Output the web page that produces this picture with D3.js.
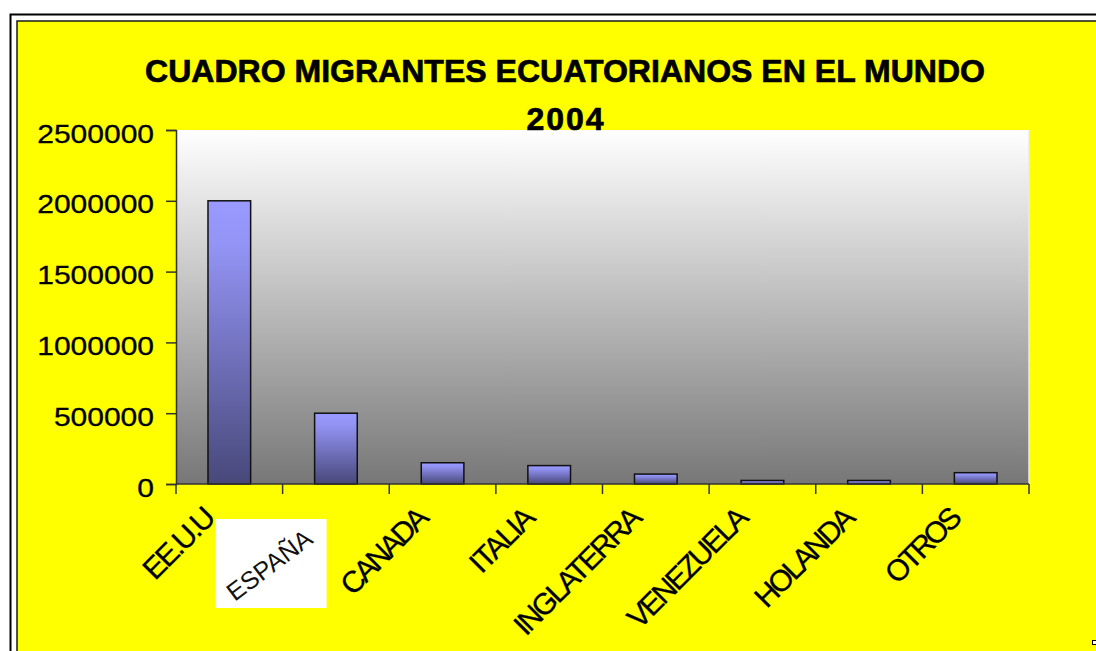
<!DOCTYPE html>
<html>
<head>
<meta charset="utf-8">
<script src="https://cdn.jsdelivr.net/npm/d3@7"></script>
<style>
  body { margin: 0; background: #fff; }
  svg { display: block; font-family: "Liberation Sans", Arial, sans-serif; }
</style>
</head>
<body>
<svg id="chart" width="1096" height="651"></svg>
<script>
// chart data
const categories = ["EE.U.U", "ESPAÑA", "CANADA", "ITALIA", "INGLATERRA", "VENEZUELA", "HOLANDA", "OTROS"];
const migrants = [2000000, 500000, 150000, 130000, 70000, 25000, 25000, 80000];
const yTicks = [0, 500000, 1000000, 1500000, 2000000, 2500000];
const titleLines = ["CUADRO MIGRANTES ECUATORIANOS EN EL MUNDO", "2004"];

const data = categories.map((c, i) => ({ name: c, value: migrants[i] }));

const width = 1096;
const height = 651;
const plot = { left: 176, right: 1029, top: 130, bottom: 484 };

const svg = d3.select("#chart");
const defs = svg.append("defs");

// plot area gradient (white -> gray)
const bg = defs.append("linearGradient")
    .attr("id", "plotGrad")
    .attr("x1", 0).attr("y1", 0).attr("x2", 0).attr("y2", 1);
bg.append("stop").attr("offset", "0%").attr("stop-color", "#ffffff");
bg.append("stop").attr("offset", "100%").attr("stop-color", "#777777");

// bar gradient (light blue -> dark blue)
const bar = defs.append("linearGradient")
    .attr("id", "barGrad")
    .attr("x1", 0).attr("y1", 0).attr("x2", 0).attr("y2", 1);
bar.append("stop").attr("offset", "0%").attr("stop-color", "#9999ff");
bar.append("stop").attr("offset", "15%").attr("stop-color", "#9494f6");
bar.append("stop").attr("offset", "100%").attr("stop-color", "#48487a");

// outer frame
svg.append("rect")
    .attr("x", 10.5).attr("y", 14.5)
    .attr("width", width + 20).attr("height", height + 20)
    .attr("fill", "none").attr("stroke", "#000").attr("stroke-width", 2);
svg.append("rect")
    .attr("x", 17).attr("y", 21)
    .attr("width", width + 20).attr("height", height + 20)
    .attr("fill", "#ffff00").attr("stroke", "#1a1a1a").attr("stroke-width", 1.5);

// title, heavy and tight like the original
const title = svg.append("g")
    .style("font-size", "32px").style("font-weight", "bold")
    .attr("stroke", "#000").attr("stroke-width", 0.7);
title.append("text")
    .attr("x", 565).attr("y", 82)
    .attr("text-anchor", "middle")
    .attr("textLength", 840)
    .attr("lengthAdjust", "spacing")
    .text(titleLines[0]);

// scales
const x = d3.scaleBand()
    .domain(categories)
    .range([plot.left, plot.right])
    .padding(0);

const y = d3.scaleLinear()
    .domain([0, 2500000])
    .range([plot.bottom, plot.top]);

// plot area
svg.append("rect")
    .attr("x", plot.left).attr("y", plot.top)
    .attr("width", plot.right - plot.left)
    .attr("height", plot.bottom - plot.top)
    .attr("fill", "url(#plotGrad)");
svg.append("line")
    .attr("x1", plot.right).attr("x2", plot.right)
    .attr("y1", plot.top).attr("y2", plot.bottom)
    .attr("stroke", "#e8e8e8").attr("stroke-width", 1.5);

title.raise();
title.append("text")
    .attr("x", 565).attr("y", 130)
    .attr("text-anchor", "middle")
    .attr("textLength", 77)
    .attr("lengthAdjust", "spacing")
    .text(titleLines[1]);

// bars
const barW = x.bandwidth() / 2.5;
svg.selectAll(".bar")
    .data(data)
    .enter()
    .append("rect")
    .attr("class", "bar")
    .attr("x", d => x(d.name) + (x.bandwidth() - barW) / 2)
    .attr("y", d => y(d.value))
    .attr("width", barW)
    .attr("height", d => plot.bottom - y(d.value))
    .attr("fill", "url(#barGrad)")
    .attr("stroke", "#111")
    .attr("stroke-width", 1.5);

// y axis
const yAxis = svg.append("g")
    .attr("transform", `translate(${plot.left},0)`)
    .call(d3.axisLeft(y).tickValues(yTicks).tickFormat(d3.format("d")).tickSize(10).tickPadding(12));
yAxis.select(".domain").attr("stroke", "#333").attr("stroke-width", 1.5);
yAxis.selectAll(".tick line").attr("stroke", "#333").attr("stroke-width", 1.5);
yAxis.selectAll("text")
    .attr("dy", "0.48em")
    .style("font-size", "25px")
    .style("font-family", "'Liberation Sans', Arial, sans-serif")
    .attr("fill", "#000")
    .attr("stroke", "#000").attr("stroke-width", 0.3)
    .each(function () {
        const w = this.getComputedTextLength();
        d3.select(this).attr("textLength", w * 1.2).attr("lengthAdjust", "spacingAndGlyphs");
    });

// x axis (ticks on category boundaries)
const edges = categories.map(c => x(c)).concat([plot.right]);
svg.append("line")
    .attr("x1", plot.left).attr("x2", plot.right)
    .attr("y1", plot.bottom).attr("y2", plot.bottom)
    .attr("stroke", "#333").attr("stroke-width", 1.5);
svg.selectAll(".xtick")
    .data(edges)
    .enter()
    .append("line")
    .attr("class", "xtick")
    .attr("x1", d => d).attr("x2", d => d)
    .attr("y1", plot.bottom).attr("y2", plot.bottom + 10)
    .attr("stroke", "#333").attr("stroke-width", 1.5);

// category labels (ESPAÑA sits on a white pasted box)
const esp = categories[1];
svg.append("rect")
    .attr("x", x(esp) - 67).attr("y", 519)
    .attr("width", 111).attr("height", 89)
    .attr("fill", "#fff");

svg.selectAll(".xlabel")
    .data(categories.filter(c => c !== esp))
    .enter()
    .append("text")
    .attr("class", "xlabel")
    .attr("text-anchor", "end")
    .attr("transform", d => `translate(${x(d) + x.bandwidth() / 2 - 12},519) rotate(-45)`)
    .style("font-size", "30px")
    .attr("stroke", "#000").attr("stroke-width", 0.3)
    .text(d => d)
    .each(function () {
        const w = this.getComputedTextLength();
        d3.select(this).attr("textLength", w * 0.88).attr("lengthAdjust", "spacing");
    });

svg.append("text")
    .attr("text-anchor", "middle")
    .attr("transform", `translate(${x(esp) - 8},572) rotate(-37)`)
    .style("font-size", "25px")
    .attr("fill", "#111")
    .text(esp);

// small marker at bottom right
svg.append("rect")
    .attr("x", 1092.5).attr("y", 640.5)
    .attr("width", 5).attr("height", 4)
    .attr("fill", "#fff").attr("stroke", "#000");
</script>
</body>
</html>
